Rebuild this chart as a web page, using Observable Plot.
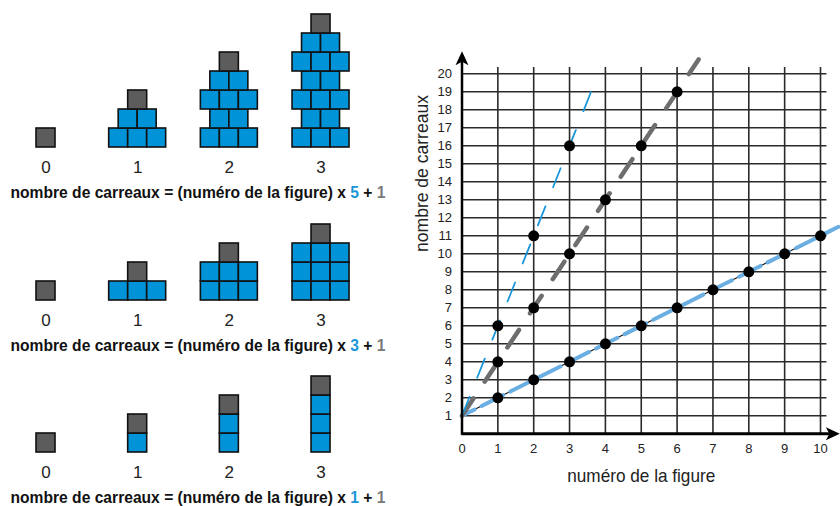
<!DOCTYPE html>
<html><head><meta charset="utf-8">
<script src="https://cdn.jsdelivr.net/npm/d3@7"></script>
<script src="https://cdn.jsdelivr.net/npm/@observablehq/plot@0.6"></script>
<style>
html,body{margin:0;padding:0;background:#fff;}
#wrap{position:relative;width:840px;height:506px;overflow:hidden;}
#left{position:absolute;left:0;top:0;}
#right{position:absolute;left:400px;top:0;}
svg text{white-space:pre;}
</style></head><body><div id="wrap"><div id="left"></div><div id="right"></div></div>
<script>
// ---------- data ----------
const figures = [0, 1, 2, 3];
const multipliers = [5, 3, 1];
const stepRows = [[3, 2], [3], [1]];      // tiles per row added at each figure step
const constantTerm = 1;
const formulaPrefix = "nombre de carreaux = (numéro de la figure) x ";

const xTicks = [0, 1, 2, 3, 4, 5, 6, 7, 8, 9, 10];
const yTicks = [1, 2, 3, 4, 5, 6, 7, 8, 9, 10, 11, 12, 13, 14, 15, 16, 17, 18, 19, 20];
const gridX = [1, 2, 3, 4, 5, 6, 7, 8, 9, 10];
const dots5 = [6, 11, 16];                      // figures 1..3
const dots3 = [4, 7, 10, 13, 16, 19];           // figures 1..6
const dots1 = [2, 3, 4, 5, 6, 7, 8, 9, 10, 11]; // figures 1..10
const line5X = [0, 3.75], line5Y = [1, 19.75];
const line3X = [0, 6.6],  line3Y = [1, 20.8];
const line1X = [0, 10],   line1Y = [1, 11];
const line1bX = [0, 10.5], line1bY = [1, 11.5];
const xTitle = "numéro de la figure";
const yTitle = "nombre de carreaux";

// ---------- styles ----------
const BLUE = "#0093d7", GRAY = "#5c5c5c";
const LINE_BLUE = "#1a96d8", LIGHT_BLUE = "#6aaee2", DASH_GRAY = "#6e6e6e";
const NUM_GRAY = "#7a7a7a";
const FONT = "'Liberation Sans', Arial, sans-serif";

// ---------- left: tile figures ----------
const T = 19, LW = 400, H = 506;
const colCenter = n => 2.395 + n * 4.825;
const rowBase = [18.895, 10.842, 2.842];
const tiles = [];
multipliers.forEach((m, p) => {
  figures.forEach(n => {
    let level = 0;
    for (let s = 0; s < n; s++) for (const k of stepRows[p]) {
      for (let i = 0; i < k; i++) tiles.push({x1: colCenter(n) - k / 2 + i, y1: rowBase[p] + level, fill: BLUE});
      level++;
    }
    tiles.push({x1: colCenter(n) - 0.5, y1: rowBase[p] + level, fill: GRAY});
  });
});
const figLabels = [];
multipliers.forEach((m, p) => figures.forEach(n => figLabels.push({x: colCenter(n), y: rowBase[p] - 1.05, t: String(n)})));
const formulas = multipliers.map((m, p) => ({x: 10 / T, y: rowBase[p] - 2.37, t: formulaPrefix + m + " + " + constantTerm}));

const left = Plot.plot({
  width: LW, height: H, margin: 0,
  x: {domain: [0, LW / T], axis: null},
  y: {domain: [0, H / T], axis: null},
  style: {fontFamily: FONT, background: "transparent", overflow: "visible"},
  marks: [
    Plot.rect(tiles, {x1: "x1", x2: d => d.x1 + 1, y1: "y1", y2: d => d.y1 + 1, fill: "fill", stroke: "#111", strokeWidth: 1.6}),
    Plot.text(figLabels, {x: "x", y: "y", text: "t", fontSize: 17, fill: "#222"}),
    Plot.text(formulas, {x: "x", y: "y", text: "t", textAnchor: "start", fontSize: 16.5, fontWeight: "bold", fill: "#111"})
  ]
});
left.querySelectorAll("text").forEach(t => {
  const mm = t.textContent.match(/^(.*x )(\d)( \+ )(\d)$/);
  if (!mm) return;
  t.textContent = "";
  const add = (s, f) => {
    const ts = document.createElementNS("http://www.w3.org/2000/svg", "tspan");
    ts.textContent = s; if (f) ts.setAttribute("fill", f); t.appendChild(ts);
  };
  add(mm[1]); add(mm[2], LINE_BLUE); add(mm[3]); add(mm[4], NUM_GRAY);
  t.setAttribute("textLength", 375);
  t.setAttribute("lengthAdjust", "spacingAndGlyphs");
});
document.getElementById("left").appendChild(left);

// ---------- right: graph ----------
const pts = (xs, ys) => xs.map((x, i) => ({x, y: ys[i]}));
const dotData = vals => vals.map((y, i) => ({x: i + 1, y}));
const stealth = {draw(ctx) { ctx.moveTo(0, 0); ctx.lineTo(6.5, 14); ctx.lineTo(0, 10.5); ctx.lineTo(-6.5, 14); ctx.closePath(); }};

const right = Plot.plot({
  width: 440, height: H,
  marginLeft: 61.5, marginRight: 20, marginTop: 73.3, marginBottom: 72.7,
  x: {domain: [0, 10], axis: null},
  y: {domain: [0, 20], axis: null},
  style: {fontFamily: FONT, background: "transparent", overflow: "visible"},
  marks: [
    Plot.ruleX(gridX, {x: d => d, y1: 0, y2: 20.35, stroke: "#2a2a2a", strokeWidth: 1.6}),
    Plot.ruleY(yTicks, {y: d => d, x1: 0, x2: 10.18, stroke: "#2a2a2a", strokeWidth: 1.6}),
    Plot.line(pts(line1X, line1Y), {x: "x", y: "y", stroke: "#111", strokeWidth: 1.1}),
    Plot.line(pts(line1bX, line1bY), {x: "x", y: "y", stroke: LIGHT_BLUE, strokeWidth: 4, strokeDasharray: "24,8", strokeDashoffset: 10}),
    Plot.line(pts(line3X, line3Y), {x: "x", y: "y", stroke: DASH_GRAY, strokeWidth: 4.5, strokeDasharray: "21,20"}),
    Plot.line(pts(line5X, line5Y), {x: "x", y: "y", stroke: LINE_BLUE, strokeWidth: 1.8, strokeDasharray: "20.5,20.5"}),
    Plot.ruleX([0], {x: d => d, y1: -0.08, y2: 20.9, stroke: "#000", strokeWidth: 2.5}),
    Plot.ruleY([0], {y: d => d, x1: 0, x2: 10.4, stroke: "#000", strokeWidth: 3}),
    Plot.dot([0], {x: 0, y: 21.25, symbol: stealth, fill: "#000", stroke: "none"}),
    Plot.dot([0], {x: 10.54, y: 0, symbol: stealth, rotate: 90, fill: "#000", stroke: "none"}),
    Plot.dot(dotData(dots1), {x: "x", y: "y", r: 5.5, fill: "#000"}),
    Plot.dot(dotData(dots3), {x: "x", y: "y", r: 5.5, fill: "#000"}),
    Plot.dot(dotData(dots5), {x: "x", y: "y", r: 5.5, fill: "#000"}),
    Plot.text(yTicks, {x: 0, y: d => d, text: d => String(d), dx: -10, textAnchor: "end", fontSize: 13, fill: "#222"}),
    Plot.text(xTicks, {x: d => d, y: 0, text: d => String(d), dy: 15, fontSize: 13, fill: "#222"}),
    Plot.text([xTitle], {x: 5, y: 0, text: d => d, dy: 42.5, fontSize: 18.5, fill: "#222"}),
    Plot.text([yTitle], {frameAnchor: "left", y: 10.1, text: d => d, dx: -39.5, rotate: -90, fontSize: 18.5, fill: "#222"})
  ]
});
right.querySelectorAll("text").forEach(t => {
  if (t.textContent === xTitle) { t.setAttribute("textLength", 148); t.setAttribute("lengthAdjust", "spacingAndGlyphs"); }
  if (t.textContent === yTitle) { t.setAttribute("textLength", 157); t.setAttribute("lengthAdjust", "spacingAndGlyphs"); }
});
document.getElementById("right").appendChild(right);
</script></body></html>
